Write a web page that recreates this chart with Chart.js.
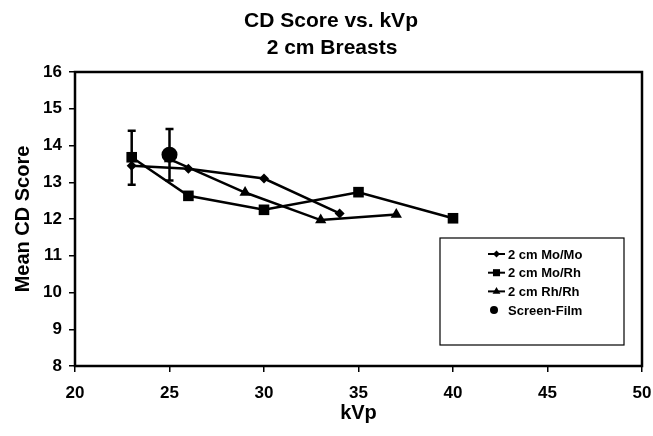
<!DOCTYPE html>
<html lang="en">
<head>
  <meta charset="UTF-8">
  <title>CD Score vs. kVp</title>
  <style>
    body {
      margin: 0;
      padding: 0;
      background: #ffffff;
    }
    .wrap {
      width: 653px;
      height: 436px;
    }
  </style>
</head>
<body>
  <div class="wrap">
    <canvas id="cdChart" width="653" height="436"></canvas>
  </div>

  <script src="https://cdn.jsdelivr.net/npm/chart.js"></script>

  <script>
    // values
    const moMoKvp = [23, 26, 30, 34];
    const moMoScore = [13.45, 13.37, 13.1, 12.15];

    const moRhKvp = [23, 26, 30, 35, 40];
    const moRhScore = [13.68, 12.63, 12.25, 12.73, 12.02];

    const rhRhKvp = [25, 29, 33, 37];
    const rhRhScore = [13.63, 12.72, 11.97, 12.12];

    const filmKvp = [25];
    const filmScore = [13.75];

    // error bars (low / high ends)
    const errKvp = [23, 25];
    const errLow = [12.93, 13.05];
    const errHigh = [14.4, 14.45];

    const titleLines = ['CD Score vs. kVp', '2 cm Breasts'];
    const xTicks = [20, 25, 30, 35, 40, 45, 50];
    const yTicks = [8, 9, 10, 11, 12, 13, 14, 15, 16];

    const FONT = "Arial, 'Liberation Sans', sans-serif";

    function toPoints(xs, ys) {
      return xs.map((x, i) => ({ x: x, y: ys[i] }));
    }

    // two line title, drawn by hand
    const titlePlugin = {
      id: 'twoLineTitle',
      afterDraw(chart) {
        const ctx = chart.ctx;
        ctx.save();
        ctx.fillStyle = '#000';
        ctx.font = 'bold 21px ' + FONT;
        ctx.textAlign = 'center';
        ctx.textBaseline = 'middle';
        ctx.fillText(titleLines[0], 331, 21);
        ctx.fillText(titleLines[1], 332, 48);
        ctx.restore();
      }
    };

    // box around the plot area
    const framePlugin = {
      id: 'frame',
      afterDatasetsDraw(chart) {
        const a = chart.chartArea;
        const ctx = chart.ctx;
        ctx.save();
        ctx.strokeStyle = '#000';
        ctx.lineWidth = 2.5;
        ctx.strokeRect(a.left, a.top, a.right - a.left, a.bottom - a.top);
        ctx.restore();
      }
    };

    const errorBarPlugin = {
      id: 'errorBars',
      afterDatasetsDraw(chart) {
        const xs = chart.scales.x, ys = chart.scales.y;
        const ctx = chart.ctx;
        ctx.save();
        ctx.strokeStyle = '#000';
        ctx.lineWidth = 2.5;
        errKvp.forEach((k, i) => {
          const px = xs.getPixelForValue(k);
          const lo = ys.getPixelForValue(errLow[i]);
          const hi = ys.getPixelForValue(errHigh[i]);
          ctx.beginPath();
          ctx.moveTo(px, lo); ctx.lineTo(px, hi);
          ctx.moveTo(px - 4, lo); ctx.lineTo(px + 4, lo);
          ctx.moveTo(px - 4, hi); ctx.lineTo(px + 4, hi);
          ctx.stroke();
        });
        ctx.restore();
      }
    };

    // legend inside the plot, lower right
    const legendPlugin = {
      id: 'boxLegend',
      afterDraw(chart) {
        const ctx = chart.ctx;
        const bx = 440, by = 238, bw = 184, bh = 107;
        ctx.save();
        ctx.fillStyle = '#fff';
        ctx.fillRect(bx, by, bw, bh);
        ctx.strokeStyle = '#000';
        ctx.lineWidth = 1.2;
        ctx.strokeRect(bx, by, bw, bh);
        ctx.font = 'bold 13px ' + FONT;
        ctx.textBaseline = 'middle';
        chart.data.datasets.forEach((ds, i) => {
          const y = 254 + i * 18.7;
          if (ds.showLine) {
            ctx.strokeStyle = '#000';
            ctx.lineWidth = 2;
            ctx.beginPath();
            ctx.moveTo(488, y);
            ctx.lineTo(505, y);
            ctx.stroke();
          }
          ctx.fillStyle = '#000';
          Chart.helpers.drawPoint(ctx, {
            pointStyle: ds.pointStyle,
            radius: ds.legendRadius,
            borderWidth: 0
          }, ds.showLine ? 496.5 : 494, y);
          ctx.fillStyle = '#000';
          ctx.fillText(ds.label, 508, y + 1);
        });
        ctx.restore();
      }
    };

    const lineStyle = {
      showLine: true,
      borderColor: '#000',
      backgroundColor: '#000',
      pointBackgroundColor: '#000',
      pointBorderColor: '#000',
      borderWidth: 2.5,
      pointBorderWidth: 0,
      tension: 0
    };

    const tickFont = { family: FONT, size: 17, weight: 'bold' };
    const axisTitleFont = { family: FONT, size: 20, weight: 'bold' };

    new Chart(document.getElementById('cdChart'), {
      type: 'scatter',
      data: {
        datasets: [
          Object.assign({}, lineStyle, {
            label: '2 cm Mo/Mo',
            data: toPoints(moMoKvp, moMoScore),
            pointStyle: 'rectRot', pointRadius: 5, legendRadius: 3.5
          }),
          Object.assign({}, lineStyle, {
            label: '2 cm Mo/Rh',
            data: toPoints(moRhKvp, moRhScore),
            pointStyle: 'rect', pointRadius: 7.5, legendRadius: 5
          }),
          Object.assign({}, lineStyle, {
            label: '2 cm Rh/Rh',
            data: toPoints(rhRhKvp, rhRhScore),
            pointStyle: 'triangle', pointRadius: 6.5, legendRadius: 4.5
          }),
          Object.assign({}, lineStyle, {
            label: 'Screen-Film',
            showLine: false,
            data: toPoints(filmKvp, filmScore),
            pointStyle: 'circle', pointRadius: 8, legendRadius: 4
          })
        ]
      },
      options: {
        responsive: false,
        animation: false,
        layout: { padding: { top: 72, right: 11, left: 0, bottom: 0 } },
        plugins: {
          legend: { display: false },
          title: { display: false },
          tooltip: { enabled: false }
        },
        scales: {
          x: {
            type: 'linear',
            min: 20, max: 50,
            afterFit: s => { s.height = 70; s.paddingLeft = 0; s.paddingRight = 0; },
            afterBuildTicks: s => { s.ticks = xTicks.map(v => ({ value: v })); },
            grid: { drawOnChartArea: false, drawTicks: true, tickLength: 6, color: '#000', lineWidth: 1.5 },
            border: { display: false },
            ticks: { color: '#000', padding: 11, font: tickFont },
            title: {
              display: true, text: 'kVp', color: '#000',
              font: axisTitleFont,
              padding: { top: 0, bottom: 11 }
            }
          },
          y: {
            type: 'linear',
            min: 8, max: 16,
            afterFit: s => { s.width = 75; s.paddingTop = 0; s.paddingBottom = 0; },
            afterBuildTicks: s => { s.ticks = yTicks.map(v => ({ value: v })); },
            grid: { drawOnChartArea: false, drawTicks: true, tickLength: 6, color: '#000', lineWidth: 1.5 },
            border: { display: false },
            ticks: { color: '#000', padding: 7, font: tickFont },
            title: {
              display: true, text: 'Mean CD Score', color: '#000',
              font: axisTitleFont,
              padding: { top: 11, bottom: 0 }
            }
          }
        }
      },
      plugins: [framePlugin, errorBarPlugin, legendPlugin, titlePlugin]
    });
  </script>
</body>
</html>
